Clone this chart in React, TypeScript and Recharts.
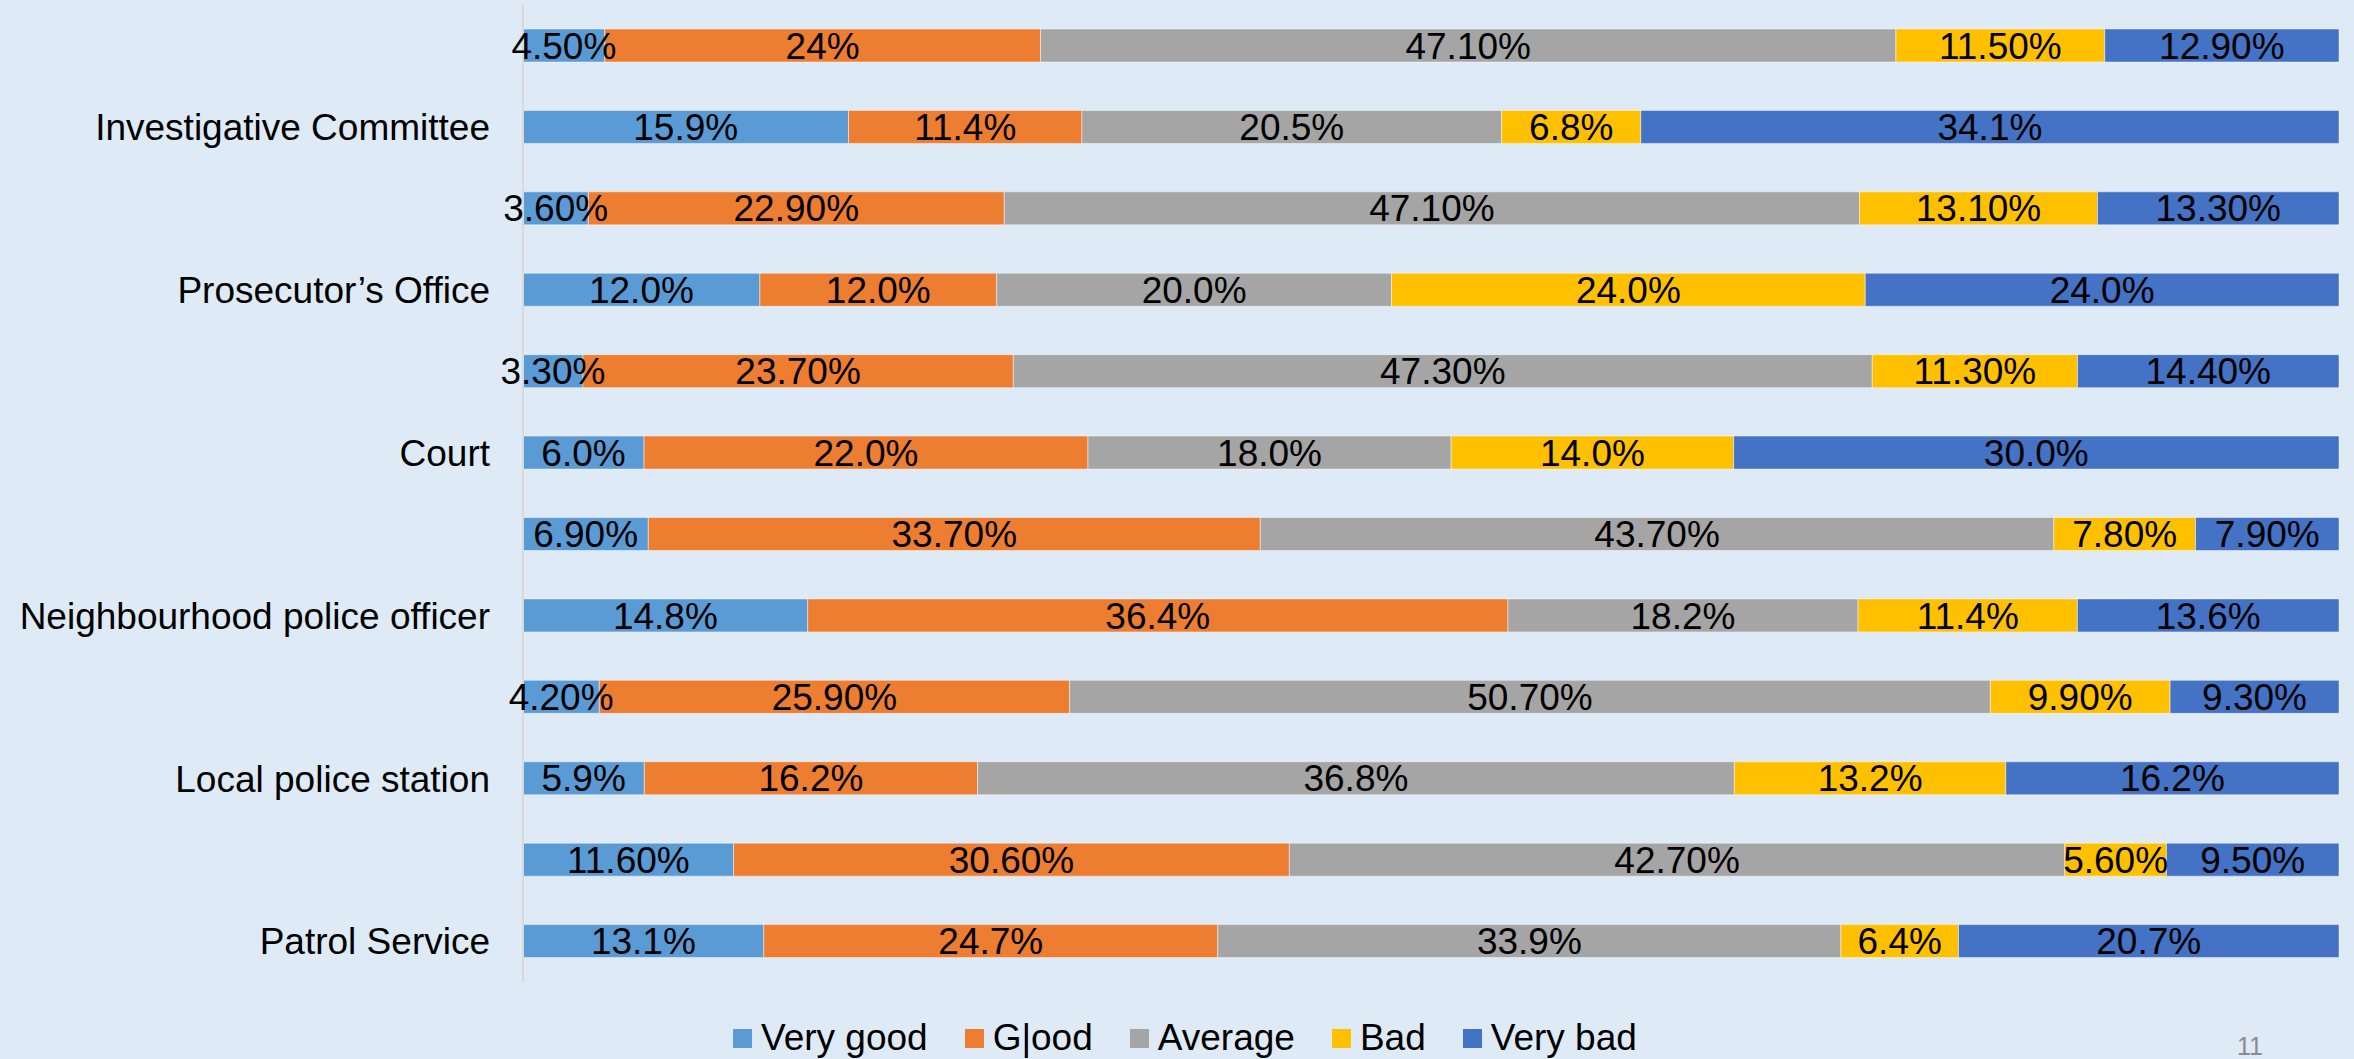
import React from "react";
import { BarChart, Bar, XAxis, YAxis, LabelList } from "recharts";

// rows listed top to bottom, blank rows are the survey comparison rows
const rowNames = [
    "",
    "Investigative Committee",
    "",
    "Prosecutor’s Office",
    "",
    "Court",
    "",
    "Neighbourhood police officer",
    "",
    "Local police station",
    "",
    "Patrol Service",
];

// values kept as printed on the slide (decimals differ between rows)
const veryGood = ["4.50", "15.9", "3.60", "12.0", "3.30", "6.0", "6.90", "14.8", "4.20", "5.9", "11.60", "13.1"];
const good = ["24", "11.4", "22.90", "12.0", "23.70", "22.0", "33.70", "36.4", "25.90", "16.2", "30.60", "24.7"];
const average = ["47.10", "20.5", "47.10", "20.0", "47.30", "18.0", "43.70", "18.2", "50.70", "36.8", "42.70", "33.9"];
const bad = ["11.50", "6.8", "13.10", "24.0", "11.30", "14.0", "7.80", "11.4", "9.90", "13.2", "5.60", "6.4"];
const veryBad = ["12.90", "34.1", "13.30", "24.0", "14.40", "30.0", "7.90", "13.6", "9.30", "16.2", "9.50", "20.7"];

const series = [
    { key: "vg", name: "Very good", color: "#5B9BD5", values: veryGood },
    { key: "g", name: "G|ood", color: "#ED7D31", values: good },
    { key: "avg", name: "Average", color: "#A5A5A5", values: average },
    { key: "bad", name: "Bad", color: "#FFC000", values: bad },
    { key: "vb", name: "Very bad", color: "#4472C4", values: veryBad },
];

const data = rowNames.map((name, i) => {
    const row: any = { id: "r" + i, name };
    series.forEach((s) => {
        row[s.key] = parseFloat(s.values[i]);
        row[s.key + "Label"] = s.values[i] + "%";
    });
    return row;
});

const FONT = '"Liberation Sans", Arial, sans-serif';

export default function App() {
    return (
        <div
            style={{
                position: "absolute",
                left: 0,
                top: 0,
                width: 2354,
                height: 1059,
                background: "#DEEAF6",
                overflow: "hidden",
                fontFamily: FONT,
            }}
        >
            <BarChart
                width={2354}
                height={1059}
                data={data}
                layout="vertical"
                stackOffset="expand"
                margin={{ top: 5, right: 15, left: 0, bottom: 77 }}
            >
                <XAxis type="number" hide domain={[0, 1]} />
                <YAxis
                    type="category"
                    dataKey="id"
                    width={523}
                    axisLine={{ stroke: "#D9D9D9", strokeWidth: 2 }}
                    tickLine={false}
                    tickSize={0}
                    tickMargin={33}
                    tickFormatter={(v: string) => rowNames[parseInt(v.slice(1), 10)]}
                    tick={{ fill: "#000", fontSize: 37, fontFamily: FONT }}
                    interval={0}
                />
                {series.map((s) => (
                    <Bar
                        key={s.key}
                        dataKey={s.key}
                        name={s.name}
                        stackId="a"
                        fill={s.color}
                        barSize={33}
                        stroke="rgba(255,255,255,0.45)"
                        strokeWidth={1}
                        isAnimationActive={false}
                    >
                        <LabelList
                            dataKey={s.key + "Label"}
                            position="center"
                            fill="#000"
                            fontSize={37}
                            fontFamily={FONT}
                        />
                    </Bar>
                ))}
            </BarChart>

            {/* legend */}
            <div
                style={{
                    position: "absolute",
                    left: 733,
                    top: 1019,
                    display: "flex",
                    alignItems: "center",
                    fontSize: 37,
                    lineHeight: "38px",
                    color: "#000",
                    whiteSpace: "nowrap",
                }}
            >
                {series.map((s) => (
                    <div key={s.key} style={{ display: "flex", alignItems: "center", marginRight: 37 }}>
                        <span style={{ display: "inline-block", width: 19, height: 19, background: s.color, marginRight: 9 }} />
                        <span>{s.name}</span>
                    </div>
                ))}
            </div>

            {/* slide number */}
            <div
                style={{
                    position: "absolute",
                    left: 2237,
                    top: 1031,
                    fontSize: 25,
                    lineHeight: "30px",
                    color: "#8C8C8C",
                }}
            >
                11
            </div>
        </div>
    );
}
